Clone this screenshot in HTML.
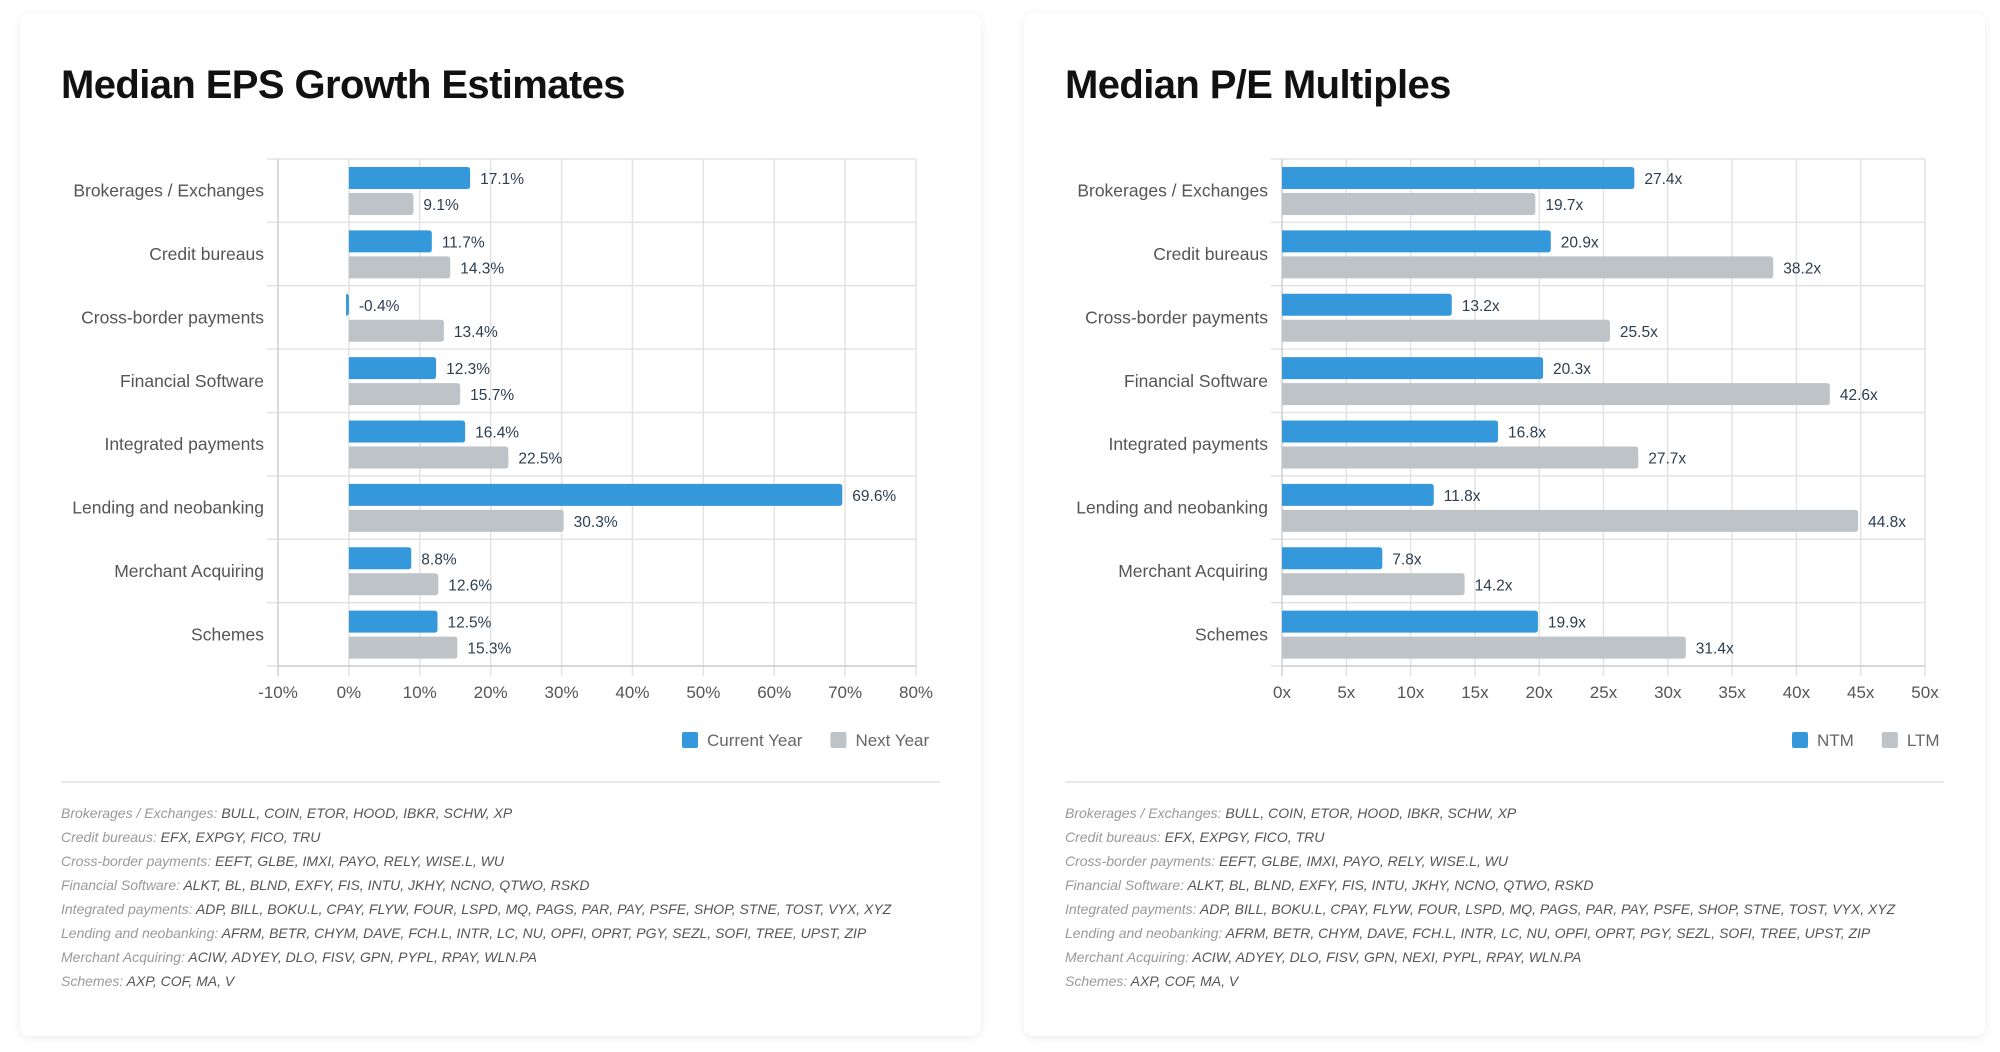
<!DOCTYPE html>
<html><head><meta charset="utf-8">
<style>
html,body{margin:0;padding:0;background:#fff;width:2000px;height:1052px;overflow:hidden;font-family:"Liberation Sans",Arial,sans-serif;}
.card{position:absolute;top:13px;width:961px;height:1023px;background:#fff;border-radius:10px;box-shadow:0 2px 10px rgba(0,0,0,0.08);}
.title{position:absolute;left:41px;top:50px;font-size:40px;font-weight:bold;color:#111;letter-spacing:-0.6px;margin:0;}
svg{position:absolute;left:0;top:0;}
.notes{position:absolute;left:41px;top:788px;font-size:14px;font-style:italic;color:#999;line-height:24px;}
.notes b{font-weight:normal;color:#555;}
</style></head><body>
<div class="card" id="c1" style="left:20px">
  <h1 class="title">Median EPS Growth Estimates</h1>
  <svg id="s1" width="961" height="1023"></svg>
  <div class="notes">
    <div>Brokerages / Exchanges: <b>BULL, COIN, ETOR, HOOD, IBKR, SCHW, XP</b></div>
    <div>Credit bureaus: <b>EFX, EXPGY, FICO, TRU</b></div>
    <div>Cross-border payments: <b>EEFT, GLBE, IMXI, PAYO, RELY, WISE.L, WU</b></div>
    <div>Financial Software: <b>ALKT, BL, BLND, EXFY, FIS, INTU, JKHY, NCNO, QTWO, RSKD</b></div>
    <div>Integrated payments: <b>ADP, BILL, BOKU.L, CPAY, FLYW, FOUR, LSPD, MQ, PAGS, PAR, PAY, PSFE, SHOP, STNE, TOST, VYX, XYZ</b></div>
    <div>Lending and neobanking: <b>AFRM, BETR, CHYM, DAVE, FCH.L, INTR, LC, NU, OPFI, OPRT, PGY, SEZL, SOFI, TREE, UPST, ZIP</b></div>
    <div>Merchant Acquiring: <b>ACIW, ADYEY, DLO, FISV, GPN, PYPL, RPAY, WLN.PA</b></div>
    <div>Schemes: <b>AXP, COF, MA, V</b></div>
  </div>
</div>
<div class="card" id="c2" style="left:1024px">
  <h1 class="title">Median P/E Multiples</h1>
  <svg id="s2" width="961" height="1023"></svg>
  <div class="notes">
    <div>Brokerages / Exchanges: <b>BULL, COIN, ETOR, HOOD, IBKR, SCHW, XP</b></div>
    <div>Credit bureaus: <b>EFX, EXPGY, FICO, TRU</b></div>
    <div>Cross-border payments: <b>EEFT, GLBE, IMXI, PAYO, RELY, WISE.L, WU</b></div>
    <div>Financial Software: <b>ALKT, BL, BLND, EXFY, FIS, INTU, JKHY, NCNO, QTWO, RSKD</b></div>
    <div>Integrated payments: <b>ADP, BILL, BOKU.L, CPAY, FLYW, FOUR, LSPD, MQ, PAGS, PAR, PAY, PSFE, SHOP, STNE, TOST, VYX, XYZ</b></div>
    <div>Lending and neobanking: <b>AFRM, BETR, CHYM, DAVE, FCH.L, INTR, LC, NU, OPFI, OPRT, PGY, SEZL, SOFI, TREE, UPST, ZIP</b></div>
    <div>Merchant Acquiring: <b>ACIW, ADYEY, DLO, FISV, GPN, NEXI, PYPL, RPAY, WLN.PA</b></div>
    <div>Schemes: <b>AXP, COF, MA, V</b></div>
  </div>
</div>
<script>
const categories = ["Brokerages / Exchanges","Credit bureaus","Cross-border payments","Financial Software","Integrated payments","Lending and neobanking","Merchant Acquiring","Schemes"];
const epsCurrent = [17.1,11.7,-0.4,12.3,16.4,69.6,8.8,12.5];
const epsNext = [9.1,14.3,13.4,15.7,22.5,30.3,12.6,15.3];
const epsTicks = [-10,0,10,20,30,40,50,60,70,80];
const peNTM = [27.4,20.9,13.2,20.3,16.8,11.8,7.8,19.9];
const peLTM = [19.7,38.2,25.5,42.6,27.7,44.8,14.2,31.4];
const peTicks = [0,5,10,15,20,25,30,35,40,45,50];
const epsSeriesNames = ["Current Year","Next Year"];
const peSeriesNames = ["NTM","LTM"];

const NS="http://www.w3.org/2000/svg";
function mk(svg,tag,attrs,text){const e=document.createElementNS(NS,tag);for(const k in attrs)e.setAttribute(k,attrs[k]);if(text!==undefined)e.textContent=text;svg.appendChild(e);return e;}

function draw(svg,left,right,ticks,s1,s2,names,fmt,tickFmt,legendX){
  const top=146,bottom=653,n=categories.length,band=(bottom-top)/n;
  const min=ticks[0],max=ticks[ticks.length-1];
  const x=v=>left+(v-min)/(max-min)*(right-left);
  const grid="#e3e3e3";
  for(let i=0;i<=n;i++){const y=top+i*band;
    const l=mk(svg,'line',{x1:left-11,x2:right,y1:y,y2:y,stroke:grid,'stroke-width':1.5});
    
    }
  ticks.forEach(t=>{const xx=x(t);
    const l=mk(svg,'line',{x1:xx,x2:xx,y1:top,y2:bottom+10,stroke:(t===min?'#cfcfcf':grid),'stroke-width':1.5});
    
    
    const tl=mk(svg,'text',{x:xx,y:bottom+32,'text-anchor':'middle','font-size':17,fill:'#555'},tickFmt(t));
    
    });
  const ax=mk(svg,'line',{x1:left,x2:right,y1:bottom,y2:bottom,stroke:'#cfcfcf','stroke-width':1.5});
  
  
  const x0=x(Math.max(0,min));
  categories.forEach((c,i)=>{const y=top+i*band;
    const lab=mk(svg,'text',{x:left-14,y:y+band/2+6,'text-anchor':'end','font-size':17.5,fill:'#555'},c);
    
    
    [[s1[i],'#3498db',8],[s2[i],'#bdc3c7',34]].forEach(([v,col,off])=>{
      const xa=Math.min(x0,x(v)),w=Math.max(2,Math.abs(x(v)-x0));
      const r=mk(svg,'path',{d:`M${xa},${y+off}h${w-3}q3,0 3,3v16q0,3 -3,3h${-(w-3)}z`,fill:col});
      
      
      const vl=mk(svg,'text',{x:Math.max(x0,x(v))+10,y:y+off+17,'font-size':15.5,fill:'#2c3e50'},fmt(v));
      
      
    });
  });
  let lx=legendX;
  names.forEach((nm,k)=>{
    const sq=mk(svg,'rect',{x:lx,y:719,width:16,height:16,rx:2,fill:k?'#bdc3c7':'#3498db'});
    
    
    const t=mk(svg,'text',{x:lx+25,y:733,'font-size':17,fill:'#666'},nm);
    
    
    lx+=25+t.getComputedTextLength()+28;
  });
  const sep=mk(svg,'line',{x1:41,x2:920,y1:769,y2:769,stroke:'#e8e8e8','stroke-width':2});
  
  
}
draw(document.getElementById('s1'),258,896,epsTicks,epsCurrent,epsNext,epsSeriesNames,v=>v.toFixed(1)+'%',t=>t+'%',662);
draw(document.getElementById('s2'),258,901,peTicks,peNTM,peLTM,peSeriesNames,v=>v.toFixed(1)+'x',t=>t+'x',768);
</script>
</body></html>
